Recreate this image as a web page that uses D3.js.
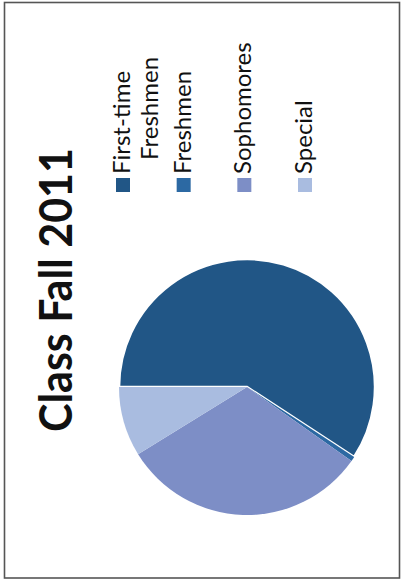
<!DOCTYPE html>
<html>
<head>
<meta charset="utf-8">
<script src="https://cdn.jsdelivr.net/npm/d3@7"></script>
<style>
  body { margin: 0; background: #fff; }
</style>
</head>
<body>
<div id="chart"></div>
<script>
// données du graphique
const title = "Class Fall 2011";
const categories = ["First-time Freshmen", "Freshmen", "Sophomores", "Special"];
const legendLabels = [["First-time", "Freshmen"], ["Freshmen"], ["Sophomores"], ["Special"]];
const values = [59.2, 0.6, 31.4, 8.8];
const colors = ["#215686", "#2c69a3", "#7d8ec6", "#a9bce0"];

const width = 401;
const height = 581;

const svg = d3.select("#chart").append("svg")
    .attr("width", width)
    .attr("height", height);

svg.append("rect")
    .attr("width", width)
    .attr("height", height)
    .attr("fill", "#fff");

// cadre de la page scannée
svg.append("rect")
    .attr("x", 4.5)
    .attr("y", 2.5)
    .attr("width", 395)
    .attr("height", 575.5)
    .attr("fill", "none")
    .attr("stroke", "#555")
    .attr("stroke-width", 1.6);

// la page est tournée : on dessine dans un repère 581x401 puis on pivote
const g = svg.append("g")
    .attr("transform", `translate(0,${height}) rotate(-90)`);

// titre
g.append("text")
    .attr("x", 291)
    .attr("y", 72)
    .attr("text-anchor", "middle")
    .attr("font-family", "Lato, 'Open Sans', sans-serif")
    .attr("font-weight", "bold")
    .attr("font-size", 45)
    .attr("textLength", 284)
    .attr("lengthAdjust", "spacingAndGlyphs")
    .attr("fill", "#111")
    .text(title);

// camembert
const color = d3.scaleOrdinal().domain(categories).range(colors);
const pie = d3.pie().sort(null).value(d => d.value);
const arc = d3.arc().innerRadius(0).outerRadius(128);

const data = categories.map((c, i) => ({ name: c, value: values[i] }));

const slices = g.append("g")
    .attr("transform", "translate(194,247)");

slices.selectAll("path")
    .data(pie(data))
    .join("path")
    .attr("d", arc)
    .attr("fill", d => color(d.data.name))
    .attr("stroke", (d, i) => i === 0 ? "#fff" : "none")
    .attr("stroke-width", 2.5);

// légende
const ly = d3.scalePoint().domain(categories).range([130, 312]);

const legend = g.append("g")
    .selectAll("g")
    .data(categories)
    .join("g")
    .attr("transform", d => `translate(389,${ly(d)})`);

legend.append("rect")
    .attr("x", 0)
    .attr("y", -14)
    .attr("width", 14)
    .attr("height", 14)
    .attr("fill", d => color(d));

legend.append("text")
    .attr("font-family", "Lato, 'Open Sans', sans-serif")
    .attr("font-size", 24)
    .attr("fill", "#111")
    .selectAll("tspan")
    .data((d, i) => legendLabels[i].map((t, j) => ({ t, j })))
    .join("tspan")
    .attr("x", d => d.j === 0 ? 18 : 32)
    .attr("dy", d => d.j === 0 ? 0 : 28)
    .text(d => d.t);
</script>
</body>
</html>
